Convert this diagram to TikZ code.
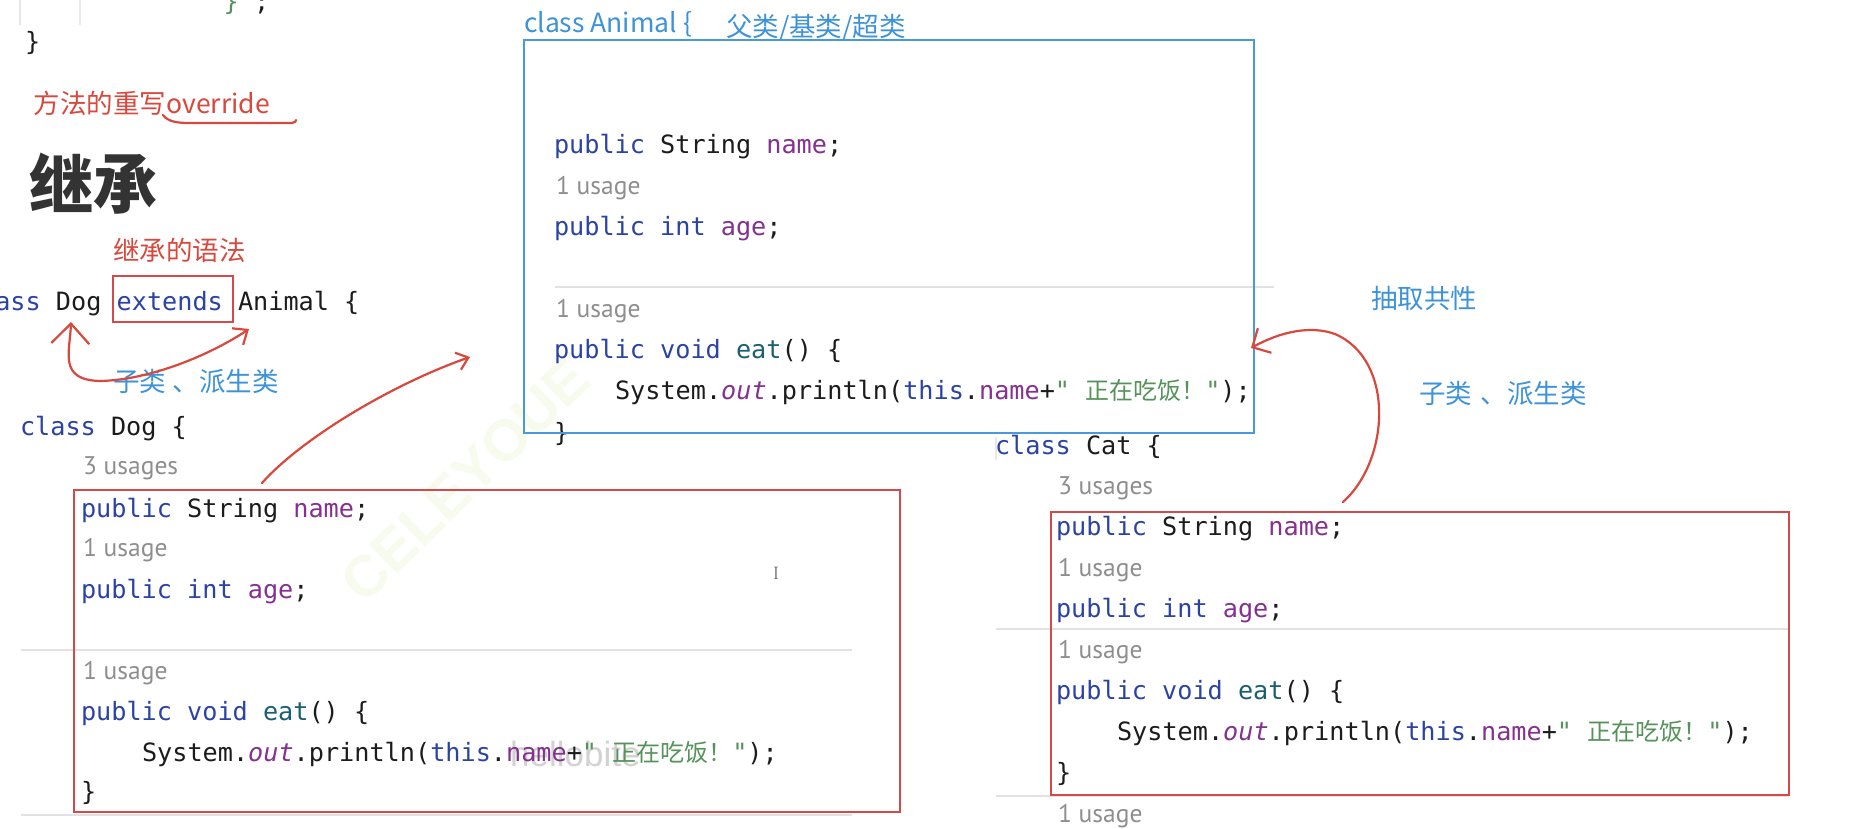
\documentclass[tikz,border=0pt]{standalone}
\usepackage{fontspec}
\usetikzlibrary{arrows.meta}
\newfontfamily\cjkf{Noto Sans CJK SC}
\newfontfamily\monof{DejaVu Sans Mono}
\newfontfamily\hintfam{PT Sans}
\newfontfamily\wmfam{Liberation Sans}
\definecolor{kwblue}{HTML}{2C43A6}
\definecolor{fieldpurple}{HTML}{84318F}
\definecolor{methteal}{HTML}{1B5F73}
\definecolor{strgreen}{HTML}{55935A}
\definecolor{codeblack}{HTML}{1C1C1C}
\definecolor{hintgray}{HTML}{8E8E8E}
\definecolor{sepgray}{HTML}{E2E2E2}
\definecolor{annred}{HTML}{D8483C}
\definecolor{boxred}{HTML}{D24A4A}
\definecolor{annblue}{HTML}{3E93D8}
\definecolor{boxblue}{HTML}{4A9ADB}
\definecolor{titlegray}{HTML}{333333}
\definecolor{wmgreen}{HTML}{F7FBEE}
\definecolor{wmgray}{HTML}{D2D2D2}
\newcommand\kw[1]{\textcolor{kwblue}{#1}}
\newcommand\pv[1]{\textcolor{fieldpurple}{#1}}
\newcommand\mth[1]{\textcolor{methteal}{#1}}
\newcommand\strg[1]{\textcolor{strgreen}{#1}}
\newcommand\zh[1]{{\cjkf\fontsize{24}{30}\selectfont #1}}
\newcommand\outf{\textcolor{fieldpurple}{\itshape out}}
\newcommand\lineName{\kw{public} String \pv{name};}
\newcommand\lineAge{\kw{public} \kw{int} \pv{age};}
\newcommand\lineEat{\kw{public} \kw{void} \mth{eat}() \{}
\newcommand\linePrint{System.\outf.println(\kw{this}.\pv{name}+\strg{" \zh{正在吃饭！}"});}
\begin{document}
\begin{tikzpicture}[x=1pt,y=-1pt,
  code/.style={anchor=base west, inner sep=0pt, outer sep=0pt, text=codeblack, font=\monof\fontsize{25.2}{30}\selectfont},
  hint/.style={anchor=base west, inner sep=0pt, outer sep=0pt, text=hintgray, font=\hintfam\fontsize{25.5}{30}\selectfont},
  redtxt/.style={anchor=base west, inner sep=0pt, outer sep=0pt, text=annred, font=\cjkf\fontsize{26.5}{30}\selectfont},
  bluetxt/.style={anchor=base west, inner sep=0pt, outer sep=0pt, text=annblue, font=\cjkf\fontsize{26.5}{30}\selectfont},
  sepline/.style={draw=sepgray, line width=1.6pt},
  redframe/.style={draw=boxred, line width=2.6pt},
  blueframe/.style={draw=boxblue, line width=2.6pt},
  hand/.style={draw=annred, line width=2.2pt, line cap=round, line join=round},
  guide/.style={draw=black!9, line width=1.5pt}
]
\useasboundingbox (0,0) rectangle (1864,828);
\clip (0,0) rectangle (1864,828);
\fill[white] (0,0) rectangle (1864,828);

% watermarks
\node[rotate=44, text=wmgreen, inner sep=0pt, font=\wmfam\bfseries\fontsize{58}{60}\selectfont] (wmark) at (465,480) {CELEYOUE};
\node[anchor=base west, inner sep=0pt, text=wmgray, font=\wmfam\fontsize{35}{40}\selectfont] (wmark2) at (510,766) {hellobite};

% top-left fragment
\draw[guide] (20,0) -- (20,25);
\draw[guide] (80,0) -- (80,25);
\node[code] (frag) at (208.5,10) {\strg{"\}"};};
\node[code] (closeTop) at (25,50) {\}};

% annotations left
\node[redtxt] (override) at (34,113) {方法的重写override};
\draw[hand] (163,115) .. controls (168,122) and (178,123) .. (190,123) -- (292,123) .. controls (295,123) and (296,121) .. (296,120);
\node[anchor=base west, inner sep=0pt, text=titlegray, font=\cjkf\bfseries\fontsize{64}{70}\selectfont] (title) at (29,208) {继承};
\node[redtxt] (syntax) at (113,260) {继承的语法};
\node[code] (decl) at (-4.7,310) {\kw{ass} Dog \kw{extends} Animal \{};
\draw[redframe, line width=2pt] (113,276) rectangle (233,322);
\node[bluetxt] (subL) at (113,391) {子类\hspace{7pt}、派生类};

% Dog class
\node[code] (dogcls) at (20,435) {\kw{class} Dog \{};
\node[hint] (dogu3) at (83,474) {3 usages};
\node[code] (dogname) at (81,517) {\lineName};
\node[hint] (dogu1) at (83,556) {1 usage};
\node[code] (dogage) at (81,598) {\lineAge};
\draw[sepline] (21,650) -- (852,650);
\node[hint] (dogu1b) at (83,679) {1 usage};
\node[code] (dogeat) at (81,720) {\lineEat};
\node[code] (dogprint) at (142,761) {\linePrint};
\node[code] (dogclose) at (81,800) {\}};
\draw[sepline] (21,815) -- (852,815);
\draw[redframe] (74,490) rectangle (900,812);
\node[inner sep=0pt, text=black!65, font=\rmfamily\fontsize{18}{20}\selectfont] (cursor) at (776,573) {I};

% Animal class
\node[bluetxt] (animhead) at (524,32) {class Animal \{};
\node[bluetxt] (animsuper) at (726,36) {父类/基类/超类};
\node[code] (anname) at (554,153) {\lineName};
\node[hint] (anu1) at (556,194) {1 usage};
\node[code] (anage) at (554,235) {\lineAge};
\draw[sepline] (555,287) -- (1274,287);
\node[hint] (anu1b) at (556,317) {1 usage};
\node[code] (aneat) at (554,358) {\lineEat};
\node[code] (anprint) at (615,399) {\linePrint};
\node[code] (anclose) at (554,441) {\}};
\draw[blueframe] (524,40) rectangle (1254,433);

% Cat class
\draw[guide] (996,437) -- (996,460);
\node[code] (catcls) at (995,454) {\kw{class} Cat \{};
\node[hint] (catu3) at (1058,494) {3 usages};
\node[code] (catname) at (1056,535) {\lineName};
\node[hint] (catu1) at (1058,576) {1 usage};
\node[code] (catage) at (1056,617) {\lineAge};
\draw[sepline] (996,629) -- (1789,629);
\node[hint] (catu1b) at (1058,658) {1 usage};
\node[code] (cateat) at (1056,699) {\lineEat};
\node[code] (catprint) at (1117,740) {\linePrint};
\node[code] (catclose) at (1056,781) {\}};
\draw[sepline] (996,796) -- (1789,796);
\node[hint] (catu1c) at (1058,822) {1 usage};
\draw[redframe] (1051,512) rectangle (1789,795);

% annotations right
\node[bluetxt] (common) at (1371,308) {抽取共性};
\node[bluetxt] (subR) at (1419,403) {子类\hspace{9pt}、派生类};

% hand-drawn arrows
\coordinate (dogTip) at (71,322);
\coordinate (animalWordTip) at (249,329);
\coordinate (dogBoxTop) at (262,483);
\coordinate (animalLeft) at (470,357);
\coordinate (catBoxTop) at (1343,502);
\coordinate (animalRight) at (1251,348);
\draw[hand, {Straight Barb[length=20pt,width=38pt]}-{Straight Barb[length=12pt,width=20pt]}]
  (dogTip) .. controls (70,352) and (58,380) .. (100,381) .. controls (150,380) and (210,355) .. (animalWordTip);
\draw[hand, -{Straight Barb[length=11pt,width=18pt]}]
  (dogBoxTop) .. controls (300,440) and (390,385) .. (animalLeft);
\draw[hand, -{Straight Barb[length=14pt,width=28pt]}]
  (catBoxTop) .. controls (1390,460) and (1395,360) .. (1335,334) .. controls (1310,325) and (1280,332) .. (animalRight);
\end{tikzpicture}
\end{document}
